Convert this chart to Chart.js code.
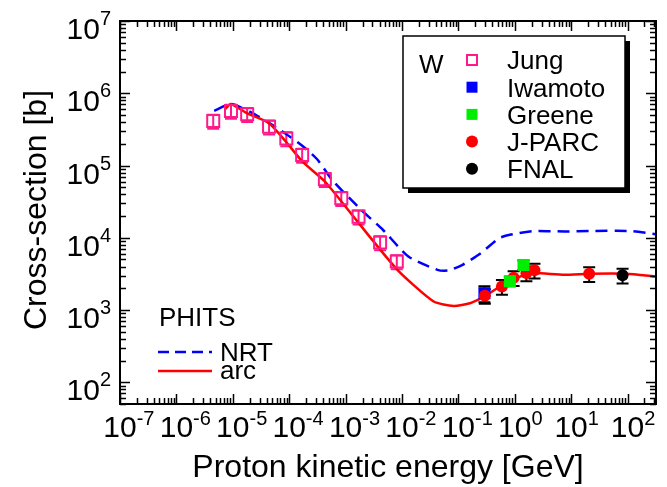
<!DOCTYPE html>
<html>
<head>
<meta charset="utf-8">
<script src="https://cdn.jsdelivr.net/npm/chart.js@4.4.1/dist/chart.umd.min.js"></script>
<style>
    html, body { margin: 0; padding: 0; background: #fff; }
    #wrap { width: 667px; height: 487px; }
</style>
</head>
<body>
<div id="wrap"><canvas id="chart" width="667" height="487"></canvas></div>
<script>
// axis ranges and tick exponents
const xRange = [1e-7, 320];
const yRange = [50, 1e7];
const xTickExponents = [-7, -6, -5, -4, -3, -2, -1, 0, 1, 2];
const yTickExponents = [2, 3, 4, 5, 6, 7];

// PHITS calculations
const arcEnergy = [7.4e-6, 9.2e-6, 1.77e-5, 4.4e-5, 8.7e-5, 1.72e-4, 4.3e-4, 1.63e-3, 8.3e-3, 0.0365, 0.0826, 0.161, 0.29, 0.61, 1.48, 2.31, 7.55, 21.2, 93.8, 320];
const arcValue = [6.1e5, 7.1e5, 5.3e5, 3.85e5, 2.15e5, 1.13e5, 6.0e4, 1.67e4, 3.6e3, 1.31e3, 1.14e3, 1.24e3, 1.54e3, 2.23e3, 3.07e3, 3.24e3, 3.07e3, 3.17e3, 3.17e3, 2.9e3];
const nrtEnergy = [4.68e-6, 9.4e-6, 2.58e-5, 8.4e-5, 1.77e-4, 3.19e-4, 5.78e-4, 1.89e-3, 4.59e-3, 0.013, 0.0425, 0.066, 0.119, 0.25, 0.526, 0.82, 2.31, 7.55, 21.2, 108.6, 320];
const nrtValue = [5.69e5, 7.11e5, 5.0e5, 2.8e5, 1.83e5, 1.2e5, 6.3e4, 2.43e4, 1.29e4, 5.5e3, 3.6e3, 3.52e3, 4.22e3, 6.12e3, 9.86e3, 1.1e4, 1.24e4, 1.22e4, 1.24e4, 1.24e4, 1.12e4];

// measurements
const jungEnergy = [4.5e-6, 9.3e-6, 1.8e-5, 4.4e-5, 8.9e-5, 1.7e-4, 4.3e-4, 8.4e-4, 1.7e-3, 4.1e-3, 8.1e-3];
const jungValue = [4.14e5, 5.69e5, 5.13e5, 3.45e5, 2.36e5, 1.40e5, 6.47e4, 3.53e4, 1.96e4, 8.59e3, 4.69e3];
const iwamotoEnergy = [0.29];
const iwamotoValue = [1.71e3];
const greeneEnergy = [0.82, 1.43];
const greeneValue = [2.5e3, 4.2e3];
const jparcEnergy = [0.295, 0.593, 0.955, 1.61, 2.24, 20.9];
const jparcValue = [1.58e3, 2.11e3, 2.8e3, 3.24e3, 3.54e3, 3.17e3];
const fnalEnergy = [81.7];
const fnalValue = [3.02e3];

// relative errors
const jungErr = 0.22;
const iwamotoErr = 0.25;
const greeneErr = 0.15;
const jparcErr = 0.23;
const fnalErr = 0.23;

const FONT = "'Liberation Sans', Arial, sans-serif";
const PINK = '#ff1a8c';

function toPoints(xs, ys) {
    return xs.map(function (x, i) {
        return { x: x, y: ys[i] };
    });
}

function drawErrorBars(ctx, chart, xs, ys, err, color) {
    const sx = chart.scales.x;
    const sy = chart.scales.y;
    ctx.save();
    ctx.strokeStyle = color;
    ctx.lineWidth = 2;
    xs.forEach(function (x, i) {
        const px = sx.getPixelForValue(x);
        const top = sy.getPixelForValue(ys[i] * (1 + err));
        const bot = sy.getPixelForValue(ys[i] * (1 - err));
        ctx.beginPath();
        ctx.moveTo(px, top); ctx.lineTo(px, bot);
        ctx.moveTo(px - 6, top); ctx.lineTo(px + 6, top);
        ctx.moveTo(px - 6, bot); ctx.lineTo(px + 6, bot);
        ctx.stroke();
    });
    ctx.restore();
}

function logTicks(min, max) {
    const ticks = [];
    for (let e = Math.floor(Math.log10(min)); e <= Math.ceil(Math.log10(max)); e++) {
        for (let m = 1; m <= 9; m++) {
            const v = m * Math.pow(10, e);
            if (v >= min * 0.999 && v <= max * 1.001) {
                ticks.push({ v: v, major: m === 1 });
            }
        }
    }
    return ticks;
}

const errorBarPlugin = {
    id: 'errorBars',
    beforeDatasetsDraw: function (chart) {
        const ctx = chart.ctx;
        drawErrorBars(ctx, chart, jungEnergy, jungValue, jungErr, PINK);
        drawErrorBars(ctx, chart, iwamotoEnergy, iwamotoValue, iwamotoErr, '#000');
        drawErrorBars(ctx, chart, greeneEnergy, greeneValue, greeneErr, '#000');
        drawErrorBars(ctx, chart, jparcEnergy, jparcValue, jparcErr, '#000');
        drawErrorBars(ctx, chart, fnalEnergy, fnalValue, fnalErr, '#000');
    }
};

const framePlugin = {
    id: 'frame',
    afterDatasetsDraw: function (chart) {
        const ctx = chart.ctx;
        const a = chart.chartArea;
        const sx = chart.scales.x;
        const sy = chart.scales.y;

        ctx.save();
        ctx.strokeStyle = '#000';
        ctx.lineWidth = 1.5;
        ctx.beginPath();
        logTicks(xRange[0], xRange[1]).forEach(function (t) {
            const px = Math.round(sx.getPixelForValue(t.v)) + 0.5;
            const len = t.major ? 10 : 6;
            ctx.moveTo(px, a.bottom); ctx.lineTo(px, a.bottom - len);
            ctx.moveTo(px, a.top); ctx.lineTo(px, a.top + len);
        });
        logTicks(yRange[0], yRange[1]).forEach(function (t) {
            const py = Math.round(sy.getPixelForValue(t.v)) + 0.5;
            const len = t.major ? 10 : 6;
            ctx.moveTo(a.left, py); ctx.lineTo(a.left + len, py);
            ctx.moveTo(a.right, py); ctx.lineTo(a.right - len, py);
        });
        ctx.stroke();

        ctx.lineWidth = 2;
        ctx.strokeRect(a.left, a.top, a.right - a.left, a.bottom - a.top);

        // tick labels
        ctx.fillStyle = '#000';
        ctx.textBaseline = 'alphabetic';
        xTickExponents.forEach(function (e) {
            const px = sx.getPixelForValue(Math.pow(10, e));
            ctx.font = '30px ' + FONT;
            const w = ctx.measureText('10').width;
            ctx.textAlign = 'left';
            ctx.fillText('10', px - w / 2, 437);
            ctx.font = '20px ' + FONT;
            ctx.fillText(String(e), px + w / 2, 425);
        });
        yTickExponents.forEach(function (e) {
            const py = sy.getPixelForValue(Math.pow(10, e));
            ctx.font = '20px ' + FONT;
            const ws = ctx.measureText(String(e)).width;
            ctx.textAlign = 'right';
            ctx.fillText(String(e), 111, py + 4);
            ctx.font = '30px ' + FONT;
            ctx.fillText('10', 111 - ws, py + 18);
        });

        // axis titles
        ctx.font = '32px ' + FONT;
        ctx.textAlign = 'center';
        ctx.fillText('Proton kinetic energy [GeV]', (a.left + a.right) / 2, 477);
        ctx.save();
        ctx.translate(46, 210);
        ctx.rotate(-Math.PI / 2);
        ctx.fillText('Cross-section [b]', 0, 0);
        ctx.restore();

        // data legend box
        ctx.fillStyle = '#000';
        ctx.fillRect(408, 41, 222, 152);
        ctx.fillStyle = '#fff';
        ctx.fillRect(403, 36, 222, 152);
        ctx.lineWidth = 1.5;
        ctx.strokeRect(403, 36, 222, 152);

        ctx.fillStyle = '#000';
        ctx.font = '26px ' + FONT;
        ctx.textAlign = 'left';
        ctx.fillText('W', 419, 72.5);
        const entries = [
            { label: 'Jung', kind: 'open' },
            { label: 'Iwamoto', kind: 'square', color: '#0000ff' },
            { label: 'Greene', kind: 'square', color: '#00ee00' },
            { label: 'J-PARC', kind: 'circle', color: '#ff0000' },
            { label: 'FNAL', kind: 'circle', color: '#000000' }
        ];
        entries.forEach(function (en, i) {
            const cy = 60 + i * 27.2;
            if (en.kind === 'open') {
                ctx.strokeStyle = PINK;
                ctx.lineWidth = 2;
                ctx.strokeRect(467, cy - 5, 10, 10);
            } else if (en.kind === 'square') {
                ctx.fillStyle = en.color;
                ctx.fillRect(466.5, cy - 5.5, 11, 11);
            } else {
                ctx.fillStyle = en.color;
                ctx.beginPath();
                ctx.arc(472, cy, 6, 0, Math.PI * 2);
                ctx.fill();
            }
            ctx.fillStyle = '#000';
            ctx.fillText(en.label, 507, cy + 9.3);
        });

        // PHITS legend
        ctx.fillText('PHITS', 159, 326);
        ctx.fillText('NRT', 220, 361);
        ctx.fillText('arc', 220, 379);
        ctx.lineWidth = 2.5;
        ctx.strokeStyle = '#0000ff';
        ctx.setLineDash([11, 6]);
        ctx.beginPath();
        ctx.moveTo(158, 352); ctx.lineTo(212, 352);
        ctx.stroke();
        ctx.setLineDash([]);
        ctx.strokeStyle = '#ff0000';
        ctx.beginPath();
        ctx.moveTo(158, 371); ctx.lineTo(212, 371);
        ctx.stroke();
        ctx.restore();
    }
};

new Chart(document.getElementById('chart'), {
    type: 'scatter',
    data: {
        datasets: [
            {
                label: 'FNAL',
                data: toPoints(fnalEnergy, fnalValue),
                pointStyle: 'circle', pointRadius: 6,
                backgroundColor: '#000', borderColor: '#000', borderWidth: 0
            },
            {
                label: 'Greene',
                data: toPoints(greeneEnergy, greeneValue),
                pointStyle: 'rect', pointRadius: 8.5,
                backgroundColor: '#00ee00', borderColor: '#00ee00', borderWidth: 0
            },
            {
                label: 'J-PARC',
                data: toPoints(jparcEnergy, jparcValue),
                pointStyle: 'circle', pointRadius: 6,
                backgroundColor: '#ff0000', borderColor: '#ff0000', borderWidth: 0
            },
            {
                label: 'Iwamoto',
                data: toPoints(iwamotoEnergy, iwamotoValue),
                pointStyle: 'rect', pointRadius: 8.5,
                backgroundColor: '#0000ff', borderColor: '#0000ff', borderWidth: 0
            },
            {
                label: 'Jung',
                data: toPoints(jungEnergy, jungValue),
                pointStyle: 'rect', pointRadius: 8.5,
                backgroundColor: 'rgba(0,0,0,0)', borderColor: PINK, borderWidth: 2
            },
            {
                label: 'arc',
                data: toPoints(arcEnergy, arcValue),
                showLine: true, pointRadius: 0, tension: 0.2,
                borderColor: '#ff0000', borderWidth: 2.5
            },
            {
                label: 'NRT',
                data: toPoints(nrtEnergy, nrtValue),
                showLine: true, pointRadius: 0, tension: 0.2,
                borderColor: '#0000ff', borderWidth: 2.5, borderDash: [12, 7]
            }
        ]
    },
    options: {
        responsive: false,
        animation: false,
        devicePixelRatio: 1,
        layout: { padding: { left: 120, right: 11, top: 21, bottom: 83 } },
        plugins: {
            legend: { display: false },
            tooltip: { enabled: false }
        },
        scales: {
            x: {
                type: 'logarithmic',
                min: xRange[0],
                max: xRange[1],
                grid: { display: false },
                border: { display: false },
                ticks: { display: false },
                afterFit: function (scale) { scale.height = 0; }
            },
            y: {
                type: 'logarithmic',
                min: yRange[0],
                max: yRange[1],
                grid: { display: false },
                border: { display: false },
                ticks: { display: false },
                afterFit: function (scale) { scale.width = 0; }
            }
        }
    },
    plugins: [errorBarPlugin, framePlugin]
});
</script>
</body>
</html>
